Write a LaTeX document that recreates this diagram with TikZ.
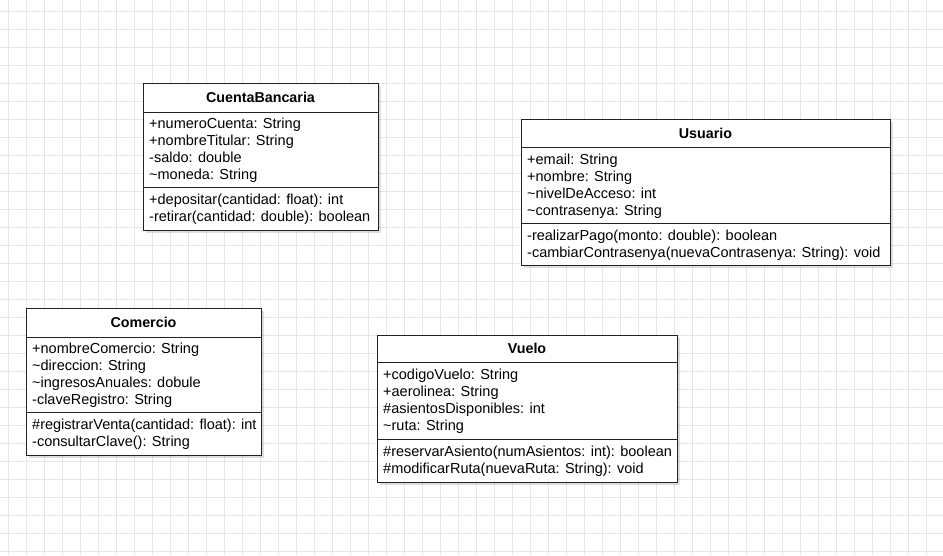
\documentclass[tikz,border=0pt]{standalone}
\usepackage{fontspec}
\setmainfont{Liberation Sans}
\definecolor{gridc}{HTML}{E6E6E6}
\definecolor{boxc}{HTML}{222222}
\newcommand\memberfont{\fontsize{14.5}{17}\selectfont}
\newcommand\titlefont{\fontsize{14.3}{17}\selectfont\bfseries}
\tikzset{
  gridline/.style={draw=gridc, line width=1pt},
  classbox/.style={draw=boxc, fill=white, line width=1pt, inner sep=0pt, outer sep=0pt, anchor=north west},
  classshadow/.style={fill=black, opacity=0.13},
  sepline/.style={draw=boxc, line width=1pt},
  member/.style={anchor=base west, inner sep=0pt, font=\memberfont},
  classtitle/.style={anchor=base, inner sep=0pt, font=\titlefont},
}
% #1 name, #2 x1, #3 y1, #4 x2, #5 y2, #6 sep1, #7 sep2, #8 title
\newcommand\umlframe[8]{%
  \fill[classshadow] (#2+3,#3+3) rectangle (#4+3,#5+3);
  \node[classbox, minimum width={(#4-#2)*1pt}, minimum height={(#5-#3)*1pt}] (#1) at (#2,#3) {};
  \coordinate (#1-s1l) at (#2,#6); \coordinate (#1-s1r) at (#4,#6);
  \coordinate (#1-s2l) at (#2,#7); \coordinate (#1-s2r) at (#4,#7);
  \draw[sepline] (#1-s1l) -- (#1-s1r);
  \draw[sepline] (#1-s2l) -- (#1-s2r);
  \node[classtitle] (#1-title) at ({(#2+#4)/2},{(#3+#6)/2+5}) {#8};
}
% #1 name prefix, #2 x, #3 first baseline, #4 list
\newcommand\umllines[4]{%
  \foreach \t [count=\i] in {#4} {
    \node[member] (#1-\i) at (#2,{#3+17*(\i-1)}) {\t};
  }
}
\begin{document}
\begin{tikzpicture}[x=1pt,y=-1pt]
  \useasboundingbox (0,0) rectangle (943,555);
  \fill[white] (0,0) rectangle (943,555);
  \foreach \k in {0,...,51} { \draw[gridline] (8+18*\k,0) -- (8+18*\k,555); }
  \foreach \k in {0,...,30} { \draw[gridline] (0,11+18*\k) -- (943,11+18*\k); }

  % CuentaBancaria
  \umlframe{cb}{143}{83}{378}{230}{112}{187}{CuentaBancaria}
  \umllines{cb-a}{149}{128}{+numeroCuenta: String,+nombreTitular: String,-saldo: double,\textasciitilde moneda: String}
  \umllines{cb-m}{149}{204}{+depositar(cantidad: float): int,-retirar(cantidad: double): boolean}

  % Usuario
  \umlframe{us}{521}{119}{890}{265}{147}{223}{Usuario}
  \umllines{us-a}{527}{164}{+email: String,+nombre: String,\textasciitilde nivelDeAcceso: int,\textasciitilde contrasenya: String}
  \umllines{us-m}{527}{240}{-realizarPago(monto: double): boolean,-cambiarContrasenya(nuevaContrasenya: String): void}

  % Comercio
  \umlframe{co}{26}{308}{261}{455}{337}{412}{Comercio}
  \umllines{co-a}{32}{353}{+nombreComercio: String,\textasciitilde direccion: String,\textasciitilde ingresosAnuales: dobule,-claveRegistro: String}
  \umllines{co-m}{32}{429}{\#registrarVenta(cantidad: float): int,-consultarClave(): String}

  % Vuelo
  \umlframe{vu}{377}{335}{677}{482}{362}{439}{Vuelo}
  \umllines{vu-a}{383}{379}{+codigoVuelo: String,+aerolinea: String,\#asientosDisponibles: int,\textasciitilde ruta: String}
  \umllines{vu-m}{383}{456}{\#reservarAsiento(numAsientos: int): boolean,\#modificarRuta(nuevaRuta: String): void}
\end{tikzpicture}
\end{document}
